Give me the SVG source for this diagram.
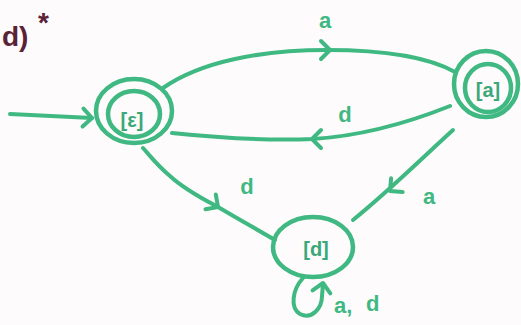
<svg xmlns="http://www.w3.org/2000/svg" width="521" height="325" viewBox="0 0 521 325">
<style>
.ln{fill:none;stroke:#3fb882;stroke-width:4;stroke-linecap:round;stroke-linejoin:round}
.nd{fill:none;stroke:#3fb882;stroke-width:4.5}
.lb{font-family:"Liberation Sans",Arial,sans-serif;font-size:22px;font-weight:bold;fill:#3fb882}
.nl{font-family:"Liberation Sans",Arial,sans-serif;font-size:20px;font-weight:bold;fill:#3aa879}
.hd{font-family:"Liberation Sans",Arial,sans-serif;font-size:28px;font-weight:bold;fill:#5a2236}
</style>
<defs>
<path id="chev" d="M-9,-9 L0,0 L-9,9" class="ln"/>
</defs>
<rect width="521" height="325" fill="#fdfbfb"/>
<text class="hd" x="2" y="46">d)</text>
<text class="hd" x="38" y="32">*</text>

<g id="connectors">
<path class="ln" d="M10,114 L92,118"/>
<use href="#chev" transform="translate(92,118) rotate(3)"/>

<path class="ln" d="M163,88 C200,62 260,50 327,50 C390,50 430,58 455,72"/>
<use href="#chev" transform="translate(330,50) rotate(0)"/>
<text class="lb" x="325" y="28" text-anchor="middle">a</text>

<path class="ln" d="M450,106 C410,122 360,136 313,139 C260,141 210,137 172,133"/>
<use href="#chev" transform="translate(312,139) rotate(180)"/>
<text class="lb" x="345" y="122" text-anchor="middle">d</text>

<path class="ln" d="M143,148 C152,158 158,166 170,176 C185,190 205,200 218,207 C240,220 258,230 275,240"/>
<use href="#chev" transform="translate(218,207) rotate(35)"/>
<text class="lb" x="247" y="194" text-anchor="middle">d</text>

<path class="ln" d="M453,130 C420,160 390,190 353,220"/>
<use href="#chev" transform="translate(390,191) rotate(140)"/>
<text class="lb" x="429" y="204" text-anchor="middle">a</text>

<path class="ln" d="M303,278 C292,290 290,308 300,314 C312,320 322,308 322,296 L323,284"/>
<use href="#chev" transform="translate(323,283) rotate(-80)"/>
<text class="lb" x="334" y="313">a,</text>
<text class="lb" x="366" y="311">d</text>
</g>

<g id="node-eps">
<ellipse class="nd" cx="134" cy="111" rx="38" ry="32"/>
<ellipse class="nd" cx="134" cy="114" rx="26" ry="23"/>
<text class="nl" x="132" y="127" text-anchor="middle">[ε]</text>
</g>

<g id="node-a">
<ellipse class="nd" cx="486" cy="84" rx="32" ry="33"/>
<ellipse class="nd" cx="488" cy="88" rx="23" ry="24"/>
<text class="nl" x="488" y="97" text-anchor="middle">[a]</text>
</g>

<g id="node-d">
<ellipse class="nd" cx="313" cy="247" rx="40" ry="30"/>
<text class="nl" x="316" y="256" text-anchor="middle">[d]</text>
</g>
</svg>
